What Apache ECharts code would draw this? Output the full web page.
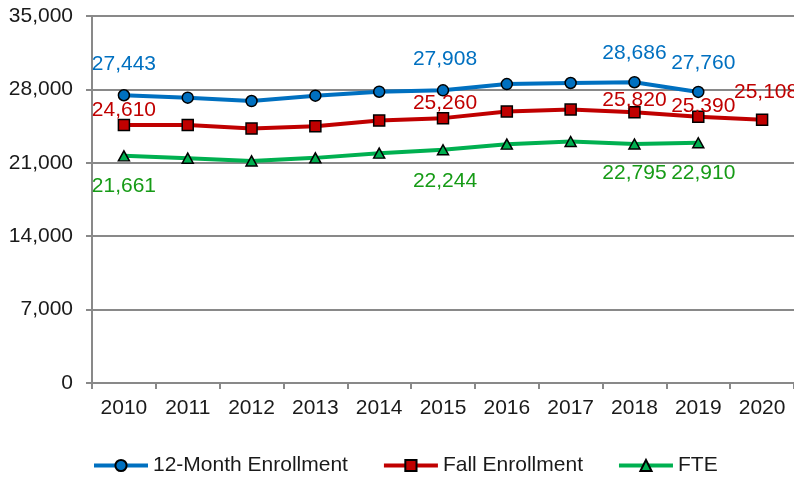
<!DOCTYPE html>
<html>
<head>
<meta charset="utf-8">
<script src="https://cdn.jsdelivr.net/npm/echarts@6/dist/echarts.min.js"></script>
<style>
  html, body { margin: 0; padding: 0; background: #fff; }
  #chart { width: 794px; height: 477px; }
</style>
</head>
<body>
<div id="chart"></div>
<script>
// Enrollment by year
const years = ['2010', '2011', '2012', '2013', '2014', '2015', '2016', '2017', '2018', '2019', '2020'];
const twelveMonth = [27443, 27210, 26890, 27400, 27780, 27908, 28510, 28610, 28686, 27760, null];
const fallEnrollment = [24610, 24600, 24270, 24490, 25030, 25260, 25890, 26080, 25820, 25390, 25108];
const fte = [21661, 21440, 21180, 21470, 21920, 22244, 22780, 23030, 22795, 22910, null];

// Years whose values are printed on the chart
const twelveMonthLabeled = [0, 5, 8, 9];
const fallLabeled = [0, 5, 8, 9, 10];
const fteLabeled = [0, 5, 8, 9];

const yTicks = [0, 7000, 14000, 21000, 28000, 35000];

const FONT = '"Liberation Sans", Arial, sans-serif';
const FONT_SIZE = 21;
const BLUE = '#0070C0';
const RED = '#C00000';
const GREEN = '#00B050';
const GREEN_TEXT = '#169b16';
const AXIS_GRAY = '#898989';

// label placement (center offset from the marker) per series and year index
const blueOffsets = { 0: [0, -31], 5: [2, -31], 8: [0, -29], 9: [5, -29] };
const redOffsets = { 0: [0, -15], 5: [2, -15], 8: [0, -12], 9: [5, -11], 10: [4, -28] };
const greenOffsets = { 0: [0, 30], 5: [2, 31], 8: [0, 29], 9: [5, 30] };

function buildData(values, labeled, offsets, color) {
  return values.map((v, i) => {
    if (!labeled.includes(i)) return v;
    return {
      value: v,
      label: {
        show: true,
        position: 'inside',
        offset: offsets[i],
        color: color,
        fontSize: FONT_SIZE,
        fontFamily: FONT,
        formatter: (p) => p.value.toLocaleString('en-US')
      }
    };
  });
}

const chart = echarts.init(document.getElementById('chart'), null, { renderer: 'canvas' });

chart.setOption({
  animation: false,
  backgroundColor: '#ffffff',
  textStyle: { fontFamily: FONT },
  grid: { left: 92, right: 0, top: 16, bottom: 94, containLabel: false },
  legend: {
    top: 455,
    left: 92,
    padding: 0,
    itemWidth: 54,
    itemHeight: 14,
    itemGap: 34,
    lineStyle: { width: 4 },
    textStyle: { fontSize: FONT_SIZE, fontFamily: FONT, color: '#1a1a1a' },
    data: ['12-Month Enrollment', 'Fall Enrollment', 'FTE']
  },
  xAxis: {
    type: 'category',
    data: years,
    boundaryGap: true,
    axisLine: { show: true, lineStyle: { color: AXIS_GRAY, width: 2 } },
    axisTick: { show: true, length: 6, lineStyle: { color: AXIS_GRAY, width: 2 } },
    axisLabel: { fontSize: FONT_SIZE, fontFamily: FONT, color: '#1a1a1a', margin: 15 },
    splitLine: { show: false }
  },
  yAxis: {
    type: 'value',
    min: yTicks[0],
    max: yTicks[yTicks.length - 1],
    interval: yTicks[1] - yTicks[0],
    axisLine: { show: true, lineStyle: { color: AXIS_GRAY, width: 2 } },
    axisTick: { show: true, length: 6, lineStyle: { color: AXIS_GRAY, width: 2 } },
    axisLabel: {
      fontSize: FONT_SIZE, fontFamily: FONT, color: '#1a1a1a', margin: 19,
      formatter: (v) => v.toLocaleString('en-US')
    },
    splitLine: { show: true, lineStyle: { color: AXIS_GRAY, width: 2 } }
  },
  series: [
    {
      name: '12-Month Enrollment',
      type: 'line',
      data: buildData(twelveMonth, twelveMonthLabeled, blueOffsets, BLUE),
      symbol: 'circle',
      symbolSize: 11,
      lineStyle: { color: BLUE, width: 4 },
      itemStyle: { color: BLUE, borderColor: '#000', borderWidth: 1.5 },
      z: 3
    },
    {
      name: 'Fall Enrollment',
      type: 'line',
      data: buildData(fallEnrollment, fallLabeled, redOffsets, RED),
      symbol: 'rect',
      symbolSize: 11,
      lineStyle: { color: RED, width: 4 },
      itemStyle: { color: RED, borderColor: '#000', borderWidth: 1.5 },
      z: 3
    },
    {
      name: 'FTE',
      type: 'line',
      data: buildData(fte, fteLabeled, greenOffsets, GREEN_TEXT),
      symbol: 'triangle',
      symbolSize: [11, 10],
      lineStyle: { color: GREEN, width: 4 },
      itemStyle: { color: GREEN, borderColor: '#000', borderWidth: 1.5 },
      z: 3
    }
  ]
});
</script>
</body>
</html>
